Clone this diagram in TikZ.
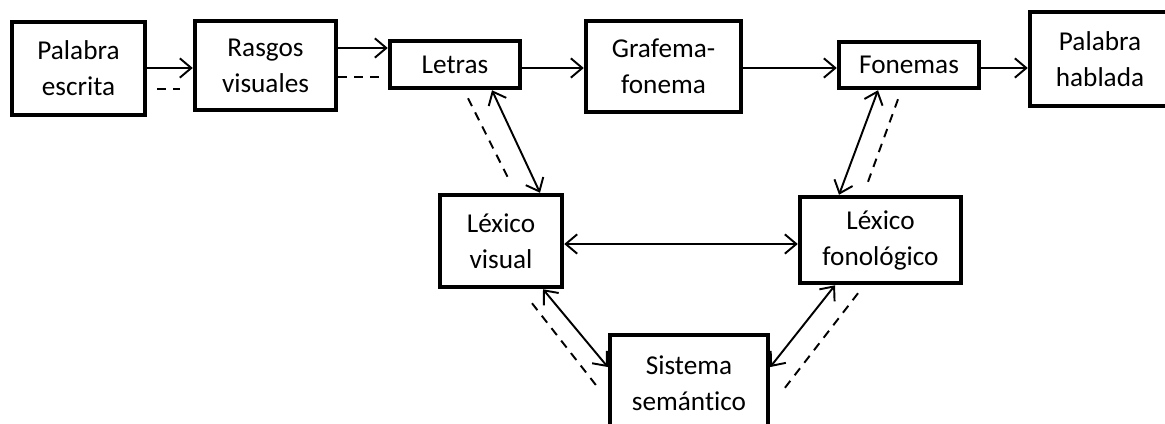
\documentclass[tikz,border=0pt]{standalone}
\usepackage{fontspec}
\setmainfont{Carlito}[Ligatures=NoCommon]
\usetikzlibrary{positioning, calc, arrows.meta}

\tikzset{
    box/.style={draw, line width=0.09cm, align=center, inner sep=0pt,
        font=\fontsize{15.5}{20.5}\selectfont},
    link/.style={line width=1.1pt, -{Straight Barb[length=6.5pt, width=11pt]}},
    both/.style={line width=1.1pt, {Straight Barb[length=6.5pt, width=11pt]}-{Straight Barb[length=6.5pt, width=11pt]}},
    weak/.style={line width=1.1pt, dash pattern=on 5pt off 4pt},
}

\begin{document}
\begin{tikzpicture}[x=0.02cm, y=-0.02cm]
        \path[use as bounding box, clip] (0,0) rectangle (1165,423);
        % top row
        \node[box, minimum width=2.66cm, minimum height=1.86cm] (pe) at (78.5,68.5) {Palabra\\escrita};
        \node[box, minimum width=2.82cm, minimum height=1.78cm] (rv) at (265.5,65.5) {Rasgos\\visuales};
        \node[box, minimum width=2.6cm, minimum height=0.94cm] (le) at (455,64.5) {Letras};
        \node[box, minimum width=3.1cm, minimum height=1.82cm] (gf) at (663.5,66.5) {Grafema-\\fonema};
        \node[box, minimum width=2.8cm, minimum height=0.92cm] (fo) at (909,65) {Fonemas};
        \node[box, minimum width=2.8cm, minimum height=1.88cm] (ph) at (1100,59) {Palabra\\hablada};
        % lexicons and semantics
        \node[box, minimum width=2.44cm, minimum height=1.84cm] (lv) at (501,241) {Léxico\\visual};
        \node[box, minimum width=3.22cm, minimum height=1.72cm] (lf) at (880.5,240) {Léxico\\fonológico};
        \node[box, minimum width=3.16cm, minimum height=1.92cm] (ss) at (689,383) {Sistema\\semántico};

        \coordinate (row) at (0,68);
        \coordinate (mid) at (0,244);
        \foreach \a/\b in {pe/rv, le/gf, gf/fo, fo/ph}
        {
            \draw[link] (\a.east |- row) -- (\b.west |- row);
        }
        \draw[link] ($(rv.east)+(0,-17.5)$) -- ($(le.west |- rv.east)+(0,-17.5)$);
        \draw[both] (lv.east |- mid) -- (lf.west |- mid);

        % dashed routes
        \draw[weak] ($(pe.east)+(10,20.5)$) -- ($(rv.west |- pe.east)+(-13,20.5)$);
        \draw[weak] ($(rv.east)+(0,11.5)$) -- ($(le.west |- rv.east)+(-7,11.5)$);
        \draw[weak] ($(le.south)+(13,8)$) -- ($(lv.north)+(9,-11)$);
        \draw[weak] ($(fo.south)+(-11,9)$) -- ($(lf.north)+(-12.5,-13)$);
        \draw[weak] ($(lv.south)+(31,14)$) -- ($(ss.west)+(-8,7)$);
        \draw[weak] ($(lf.south)+(-22.5,8)$) -- ($(ss.east)+(13,7)$);

        % two-way links
        \draw[both] ($(le.south)+(37,0)$) -- ($(lv.north)+(39,0)$);
        \draw[both] ($(fo.south)+(-31,0)$) -- ($(lf.north)+(-41.5,0)$);
        \draw[both] ($(lv.south)+(42,0)$) -- ($(ss.west)+(0,-16)$);
        \draw[both] ($(lf.south)+(-45.5,0)$) -- ($(ss.east)+(0,-16)$);
    \end{tikzpicture}
\end{document}
